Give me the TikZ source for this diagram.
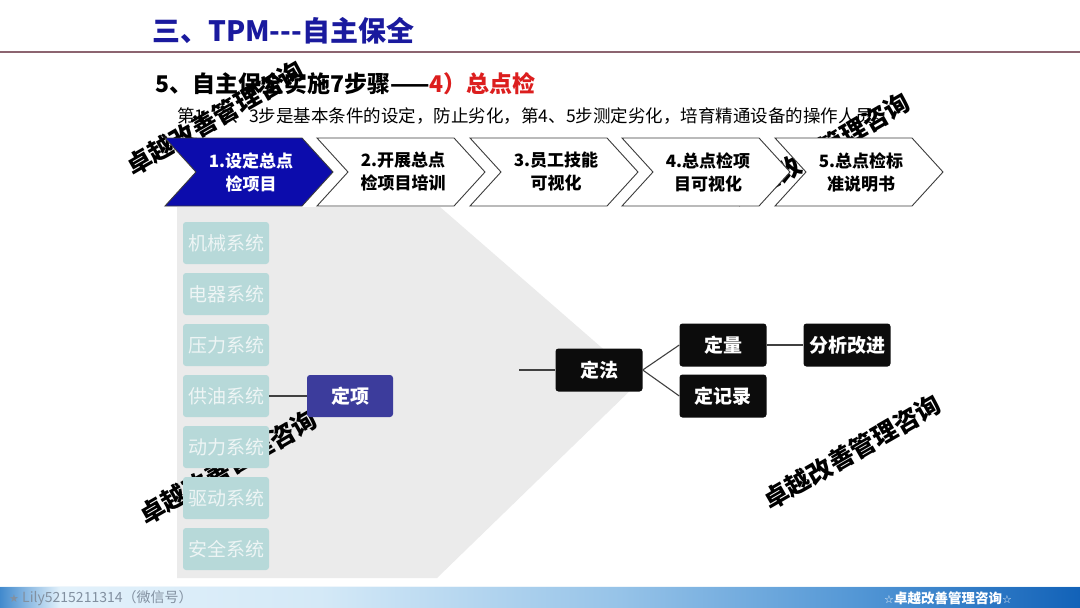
\documentclass[tikz,border=0pt]{standalone}
\usepackage{fontspec}
\setmainfont{Noto Sans CJK SC}
\newfontfamily\symfont{DejaVu Sans}
\definecolor{titleblue}{RGB}{26,26,158}
\definecolor{rulecol}{RGB}{140,100,112}
\definecolor{subred}{RGB}{220,30,30}
\definecolor{panelgray}{RGB}{235,235,235}
\definecolor{sysfill}{RGB}{183,217,217}
\definecolor{systext}{RGB}{238,245,245}
\definecolor{itemblue}{RGB}{60,60,156}
\definecolor{chevblue}{RGB}{12,12,172}
\definecolor{chevedge}{RGB}{60,60,60}
\definecolor{boxblack}{RGB}{12,12,12}
\definecolor{linecol}{RGB}{64,64,64}
\definecolor{fbA}{RGB}{66,138,205}
\definecolor{fbB}{RGB}{226,241,251}
\definecolor{fbC}{RGB}{212,233,247}
\definecolor{fbD}{RGB}{150,195,232}
\definecolor{fbE}{RGB}{82,150,213}
\definecolor{fbF}{RGB}{18,98,184}
\definecolor{foottext}{RGB}{130,144,160}
\newcommand\mychev[5]{%
  \draw[chevline, fill=#2] (#1,138) -- ++(137,0) -- ++(31,34) -- ++(-31,34)
     -- ++(-137,0) -- ++(31,-34) -- cycle;
  \node[chevtext, text=#3] (#5) at (#1+86,172) {#4};}
\begin{document}
\begin{tikzpicture}[x=1pt,y=-1pt,
  chevline/.style={draw=chevedge, line width=0.9pt, line join=miter},
  chevtext/.style={align=center, font=\fontsize{17}{23}\selectfont\bfseries, inner sep=0pt},
  sysbox/.style={fill=sysfill, rounded corners=3pt, minimum width=86pt, minimum height=42pt,
     inner sep=0pt, text=systext, font=\fontsize{19}{19}\selectfont},
  itembox/.style={fill=itemblue, rounded corners=3pt, minimum width=86pt, minimum height=42pt,
     inner sep=0pt, text=white, font=\fontsize{19}{19}\selectfont\bfseries},
  blackbox/.style={fill=boxblack, rounded corners=3pt, minimum width=87pt, minimum height=43pt,
     inner sep=0pt, text=white, font=\fontsize{19}{19}\selectfont\bfseries},
  conn/.style={draw=linecol, line width=1.1pt},
  wmark/.style={font=\fontsize{25}{25}\selectfont\bfseries, text=black, rotate=30, inner sep=0pt}]
\useasboundingbox (0,0) rectangle (1080,608);
\fill[white] (0,0) rectangle (1080,608);

% grey panel
\fill[panelgray] (177,207) -- (440,207) -- (640,381) -- (437,578) -- (177,578) -- cycle;

% title
\node[anchor=west, inner sep=0pt, text=titleblue, font=\fontsize{28}{28}\selectfont\bfseries] (title) at (152,31) {三、TPM-{}-{}-自主保全};
\draw[rulecol, line width=2pt] (0,52) -- (1080,52);

% subtitle and body
\node[anchor=west, inner sep=0pt, font=\fontsize{23}{23}\selectfont\bfseries] (sub) at (155,84)
  {5、自主保全实施7步骤——\textcolor{subred}{4）总点检}};
\node[anchor=west, inner sep=0pt, font=\fontsize{17.5}{18}\selectfont] (body) at (177,116)
  {第1、2、3步是基本条件的设定，防止劣化，第4、5步测定劣化，培育精通设备的操作人员。};

% watermarks
\node[wmark] (w1) at (215,118) {卓越改善管理咨询};
\node[wmark] (w2) at (821,150) {卓越改善管理咨询};
\node[wmark] (w3) at (228,467) {卓越改善管理咨询};
\node[wmark] (w4) at (852,452) {卓越改善管理咨询};

% chevrons
\mychev{165}{chevblue}{white}{1.设定总点\\检项目}{c1}
\mychev{317}{white}{black}{2.开展总点\\检项目培训}{c2}
\mychev{470}{white}{black}{3.员工技能\\可视化}{c3}
\mychev{622}{white}{black}{4.总点检项\\目可视化}{c4}
\mychev{775}{white}{black}{5.总点检标\\准说明书}{c5}

% system boxes
\node[sysbox] (s1) at (226,243) {机械系统};
\node[sysbox] (s2) at (226,294) {电器系统};
\node[sysbox] (s3) at (226,345) {压力系统};
\node[sysbox] (s4) at (226,396) {供油系统};
\node[sysbox] (s5) at (226,447) {动力系统};
\node[sysbox] (s6) at (226,498) {驱动系统};
\node[sysbox] (s7) at (226,549) {安全系统};

\node[itembox] (dx) at (350,396) {定项};

\node[blackbox] (df) at (599,370) {定法};
\node[blackbox] (dl) at (723,345) {定量};
\node[blackbox] (dj) at (723,396) {定记录};
\node[blackbox] (fx) at (847,345) {分析改进};

\coordinate (fstart) at (519,370);
\draw[conn] (s4.east) -- (dx.west);
\draw[conn] (fstart) -- (df.west);
\draw[conn] (df.east) -- (dl.west);
\draw[conn] (df.east) -- (dj.west);
\draw[conn] (dl.east) -- (fx.west);

% footer
\fill[left color=fbA, right color=fbB] (0,586) rectangle (60,608);
\fill[left color=fbB, right color=fbC] (60,586) rectangle (320,608);
\fill[left color=fbC, right color=fbD] (320,586) rectangle (620,608);
\fill[left color=fbD, right color=fbE] (620,586) rectangle (860,608);
\fill[left color=fbE, right color=fbF] (860,586) rectangle (1080,608);
\draw[white!85!fbD, line width=0.8pt] (0,586) -- (1080,586);
\node[anchor=west, inner sep=0pt, text=foottext, font=\fontsize{14}{14}\selectfont] (ftl) at (9,598)
  {{\symfont\fontsize{11}{11}\selectfont ★} Lily5215211314（微信号）};
\node[inner sep=0pt, text=white, font=\fontsize{13.5}{14}\selectfont\bfseries] (ftr) at (948,598)
  {{\symfont\fontsize{11}{11}\selectfont ☆}卓越改善管理咨询{\symfont\fontsize{11}{11}\selectfont ☆}};
\end{tikzpicture}
\end{document}
